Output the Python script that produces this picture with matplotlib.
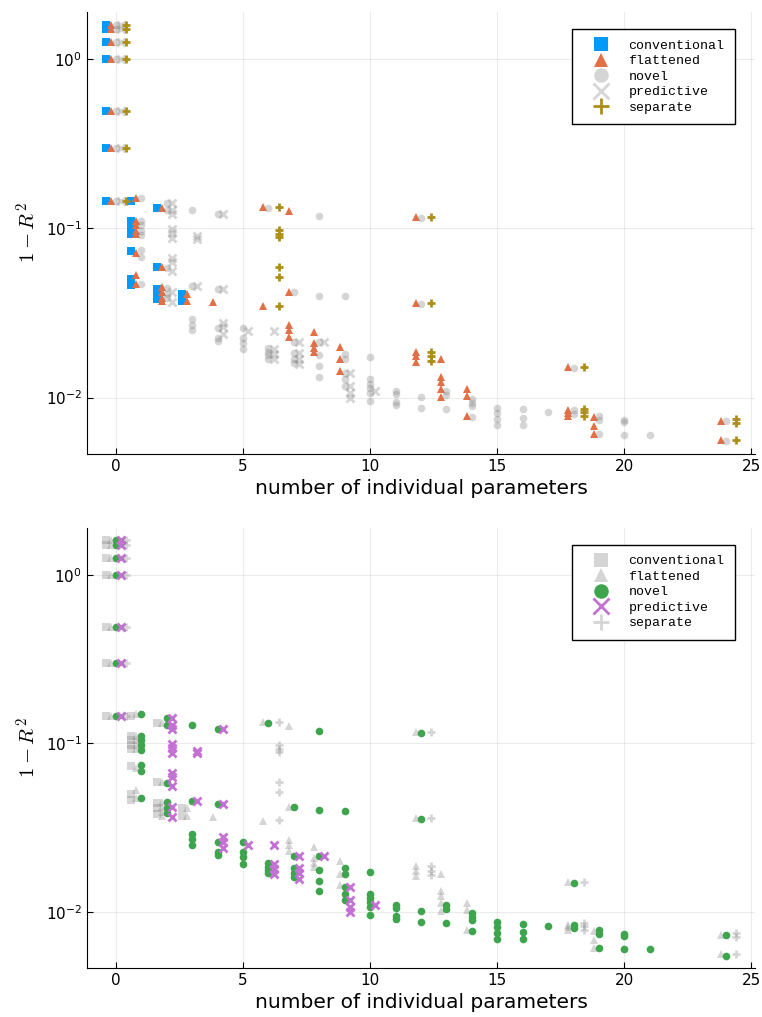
import matplotlib
matplotlib.use("Agg")
import matplotlib.pyplot as plt
import numpy as np

# number of individual parameters -> values of 1 - R^2, one dict per model family
conventional = {
    0: [1.6, 1.5, 1.26, 1.0, 0.49, 0.30, 0.145],
    1: [0.145, 0.11, 0.104, 0.097, 0.093, 0.073, 0.050, 0.046],
    2: [0.131, 0.059, 0.044, 0.041, 0.038],
    3: [0.041, 0.037],
}
flattened = {
    0: [1.6, 1.5, 1.26, 1.0, 0.49, 0.30, 0.145],
    1: [0.150, 0.110, 0.104, 0.097, 0.093, 0.071, 0.053, 0.047],
    2: [0.131, 0.059, 0.045, 0.042, 0.039, 0.037],
    3: [0.041, 0.037],
    4: [0.0365],
    6: [0.133, 0.0347],
    7: [0.127, 0.042, 0.0268, 0.025, 0.0229],
    8: [0.0243, 0.0209, 0.0196, 0.0185],
    9: [0.0200, 0.0168, 0.0144],
    12: [0.116, 0.036, 0.0187, 0.0175, 0.0163],
    13: [0.0168, 0.0132, 0.0124, 0.0113, 0.0101],
    14: [0.0113, 0.0102, 0.0078],
    18: [0.0151, 0.0084, 0.0081, 0.0078],
    19: [0.0077, 0.0068, 0.0061],
    24: [0.0073, 0.0056],
}
novel = {
    0: [1.6, 1.5, 1.26, 1.0, 0.49, 0.30, 0.145],
    1: [0.150, 0.110, 0.104, 0.097, 0.091, 0.074, 0.068, 0.047],
    2: [0.142, 0.129, 0.058, 0.0445, 0.041, 0.0385],
    3: [0.128, 0.0455, 0.029, 0.027, 0.025],
    4: [0.122, 0.0435, 0.0258, 0.0225, 0.0217],
    5: [0.0258, 0.0225, 0.021, 0.0193],
    6: [0.131, 0.0195, 0.0185, 0.0178, 0.017],
    7: [0.042, 0.0213, 0.0183, 0.0170, 0.016],
    8: [0.118, 0.040, 0.0213, 0.0178, 0.0153, 0.0133],
    9: [0.0396, 0.0181, 0.0168, 0.0140, 0.0128, 0.0117],
    10: [0.0173, 0.0128, 0.0121, 0.0114, 0.0106, 0.0096],
    11: [0.0109, 0.0105, 0.0094, 0.0090],
    12: [0.115, 0.0355, 0.0101, 0.0087],
    13: [0.0109, 0.0104, 0.0086],
    14: [0.0098, 0.0093, 0.0089, 0.0077],
    15: [0.0087, 0.0081, 0.0075, 0.0069],
    16: [0.0085, 0.0076, 0.0069],
    17: [0.0082],
    18: [0.0149, 0.0084, 0.0080],
    19: [0.0078, 0.0074, 0.0061],
    20: [0.0074, 0.0072, 0.0060],
    21: [0.0060],
    24: [0.0073, 0.0055],
}
predictive = {
    0: [1.6, 1.5, 1.26, 1.0, 0.49, 0.30, 0.145],
    2: [0.142, 0.128, 0.122, 0.099, 0.094, 0.088, 0.067, 0.063, 0.056, 0.042, 0.0365],
    3: [0.090, 0.087, 0.0455],
    4: [0.122, 0.0435, 0.0276, 0.026, 0.0238],
    5: [0.0248],
    6: [0.0248, 0.0193, 0.018, 0.0168],
    7: [0.0213, 0.0183, 0.0170, 0.0157],
    8: [0.0213],
    9: [0.0140, 0.0117, 0.0106, 0.0100],
    10: [0.0110],
}
separate = {
    0: [1.6, 1.5, 1.26, 1.0, 0.49, 0.30, 0.145],
    6: [0.133, 0.098, 0.093, 0.089, 0.0587, 0.0515, 0.0348],
    12: [0.116, 0.036, 0.0187, 0.0175, 0.0165],
    18: [0.0151, 0.0086, 0.0082, 0.0078],
    24: [0.0075, 0.0071, 0.0056],
}

names = ["conventional", "flattened", "novel", "predictive", "separate"]
groups = [conventional, flattened, novel, predictive, separate]
colors = ["#009AFA", "#E36F47", "#3EA44E", "#C371D2", "#AC8E18"]
markers = ["s", "^", "o", "x", "+"]
offsets = [-0.4, -0.2, 0.0, 0.2, 0.4]


def points(d, off):
    xs, ys = [], []
    for n, vals in d.items():
        xs += [n + off] * len(vals)
        ys += vals
    return np.array(xs), np.array(ys)


plt.rcParams['font.family'] = ['DejaVu Sans']
plt.rcParams['mathtext.fontset'] = 'cm'

fig = plt.figure(figsize=(7.62, 10.17), dpi=100)
ax1 = fig.add_axes([0.114, 0.5536, 0.877, 0.4346])
ax2 = fig.add_axes([0.114, 0.0482, 0.877, 0.4328])

allx = np.concatenate([points(g, o)[0] for g, o in zip(groups, offsets)])
ally = np.concatenate([points(g, o)[1] for g, o in zip(groups, offsets)])
xr = allx.max() - allx.min()
ly = np.log10(ally)
lr = ly.max() - ly.min()

highlight = [[0, 1, 4], [2, 3]]

for ax, hl in zip([ax1, ax2], highlight):
    for i, (g, name) in enumerate(zip(groups, names)):
        xs, ys = points(g, offsets[i])
        if i in hl:
            col, a = colors[i], 1.0
        else:
            col, a = "gray", 0.33
        if markers[i] in ("x", "+"):
            ax.plot(xs, ys, linestyle="none", marker=markers[i], markersize=6,
                    markeredgewidth=2, color=col, alpha=a, label=name)
        else:
            ax.plot(xs, ys, linestyle="none", marker=markers[i], markersize=5.5,
                    markeredgewidth=0, color=col, alpha=a, label=name)
    ax.set_yscale("log")
    ax.set_xlim(allx.min() - 0.03 * xr, allx.max() + 0.03 * xr)
    ax.set_ylim(10 ** (ly.min() - 0.03 * lr), 10 ** (ly.max() + 0.03 * lr))
    ax.set_xticks([0, 5, 10, 15, 20, 25])
    ax.set_yticks([1e-2, 1e-1, 1e0])
    ax.yaxis.set_minor_locator(matplotlib.ticker.NullLocator())
    ax.grid(True, color="black", alpha=0.08, linewidth=0.8)
    ax.set_axisbelow(True)
    ax.spines["top"].set_visible(False)
    ax.spines["right"].set_visible(False)
    ax.tick_params(direction="in", length=4, labelsize=11)
    ax.set_xlabel("number of individual parameters", fontsize=14.5)
    ax.set_ylabel(r"$1 - R^2$", fontsize=15)
    leg = ax.legend(loc="upper right", bbox_to_anchor=(0.970, 0.962), borderaxespad=0,
                    markerscale=1.9,
                    prop={"family": "Liberation Mono", "size": 9.5},
                    fancybox=False, edgecolor="black", framealpha=1,
                    handlelength=2.9, handletextpad=0.6, borderpad=0.8,
                    labelspacing=0.25)
    leg.get_frame().set_linewidth(1.0)

fig.savefig("out.png", dpi=100)
